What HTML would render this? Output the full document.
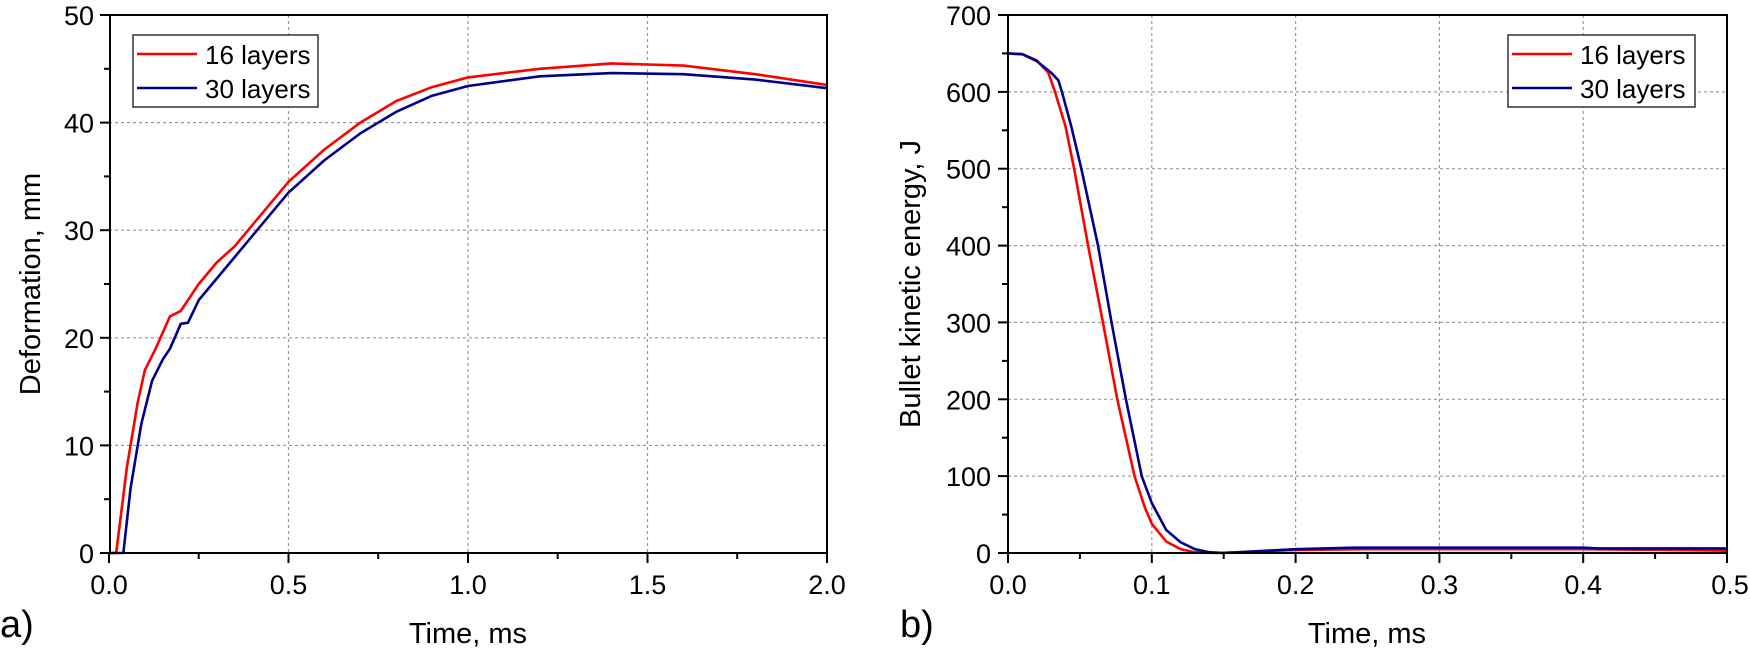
<!DOCTYPE html>
<html><head><meta charset="utf-8"><style>
html,body{margin:0;padding:0;background:#fff;}
svg{display:block;font-family:"Liberation Sans",Arial,sans-serif;}
</style></head><body>
<svg width="1750" height="653" viewBox="0 0 1750 653" xmlns="http://www.w3.org/2000/svg">
<!-- LEFT PLOT -->
<g stroke="#999" stroke-width="1.2" stroke-dasharray="3,3">
 <line x1="288.5" y1="15" x2="288.5" y2="553"/><line x1="468" y1="15" x2="468" y2="553"/><line x1="647.5" y1="15" x2="647.5" y2="553"/>
 <line x1="109" y1="122.6" x2="827" y2="122.6"/><line x1="109" y1="230.2" x2="827" y2="230.2"/><line x1="109" y1="337.8" x2="827" y2="337.8"/><line x1="109" y1="445.4" x2="827" y2="445.4"/>
</g>
<g fill="none" stroke-width="2.6" stroke-linejoin="round">
<g transform="translate(109,553) scale(359,-10.76)">
<polyline vector-effect="non-scaling-stroke" stroke="#ff0000" points="0,0 0.02,0 0.05,8 0.08,14 0.1,17 0.13,19 0.17,22 0.2,22.5 0.25,25 0.3,27 0.35,28.5 0.4,30.5 0.5,34.5 0.6,37.5 0.7,40 0.8,42 0.9,43.3 1.0,44.2 1.2,45 1.4,45.5 1.6,45.3 1.8,44.5 2.0,43.5"/>
<polyline vector-effect="non-scaling-stroke" stroke="#00008b" points="0,0 0.04,0 0.06,6 0.09,12 0.12,16 0.15,18 0.17,19 0.2,21.3 0.22,21.4 0.25,23.5 0.3,25.5 0.4,29.5 0.5,33.5 0.6,36.5 0.7,39 0.8,41 0.9,42.5 1.0,43.4 1.2,44.3 1.4,44.6 1.6,44.5 1.8,44 2.0,43.2"/>
</g></g>
<rect x="110" y="15" width="717" height="538" fill="none" stroke="#000" stroke-width="2"/>
<g stroke="#000" stroke-width="2">
 <line x1="100" y1="15" x2="110" y2="15"/><line x1="100" y1="122.6" x2="110" y2="122.6"/><line x1="100" y1="230.2" x2="110" y2="230.2"/><line x1="100" y1="337.8" x2="110" y2="337.8"/><line x1="100" y1="445.4" x2="110" y2="445.4"/><line x1="100" y1="553" x2="110" y2="553"/>
 <line x1="104" y1="68.8" x2="110" y2="68.8"/><line x1="104" y1="176.4" x2="110" y2="176.4"/><line x1="104" y1="284" x2="110" y2="284"/><line x1="104" y1="391.6" x2="110" y2="391.6"/><line x1="104" y1="499.2" x2="110" y2="499.2"/>
 <line x1="109" y1="553" x2="109" y2="563"/><line x1="288.5" y1="553" x2="288.5" y2="563"/><line x1="468" y1="553" x2="468" y2="563"/><line x1="647.5" y1="553" x2="647.5" y2="563"/><line x1="827" y1="553" x2="827" y2="563"/>
 <line x1="198.7" y1="553" x2="198.7" y2="559"/><line x1="378.2" y1="553" x2="378.2" y2="559"/><line x1="557.7" y1="553" x2="557.7" y2="559"/><line x1="737.2" y1="553" x2="737.2" y2="559"/>
</g>
<g font-size="27" text-anchor="end" fill="#000">
 <text x="94" y="25">50</text><text x="94" y="132.6">40</text><text x="94" y="240.2">30</text><text x="94" y="347.8">20</text><text x="94" y="455.4">10</text><text x="94" y="563">0</text>
</g>
<g font-size="27" text-anchor="middle">
 <text x="109" y="594">0.0</text><text x="288.5" y="594">0.5</text><text x="468" y="594">1.0</text><text x="647.5" y="594">1.5</text><text x="827" y="594">2.0</text>
</g>
<text x="468" y="643" font-size="29" text-anchor="middle">Time, ms</text>
<text x="0" y="637" font-size="38">a)</text>
<text transform="translate(40,284) rotate(-90)" font-size="29" text-anchor="middle">Deformation, mm</text>
<rect x="133" y="35" width="185" height="72" fill="#fff" stroke="#333" stroke-width="1.5"/>
<line x1="137" y1="54" x2="197" y2="54" stroke="#ff0000" stroke-width="2.6"/>
<line x1="137" y1="88" x2="197" y2="88" stroke="#00008b" stroke-width="2.6"/>
<text x="205" y="64" font-size="26">16 layers</text>
<text x="205" y="98" font-size="26">30 layers</text>

<!-- RIGHT PLOT -->
<g stroke="#999" stroke-width="1.2" stroke-dasharray="3,3">
 <line x1="1151.8" y1="15" x2="1151.8" y2="553"/><line x1="1295.6" y1="15" x2="1295.6" y2="553"/><line x1="1439.4" y1="15" x2="1439.4" y2="553"/><line x1="1583.2" y1="15" x2="1583.2" y2="553"/>
 <line x1="1008" y1="91.9" x2="1727" y2="91.9"/><line x1="1008" y1="168.7" x2="1727" y2="168.7"/><line x1="1008" y1="245.6" x2="1727" y2="245.6"/><line x1="1008" y1="322.4" x2="1727" y2="322.4"/><line x1="1008" y1="399.3" x2="1727" y2="399.3"/><line x1="1008" y1="476.1" x2="1727" y2="476.1"/>
</g>
<g fill="none" stroke-width="2.6" stroke-linejoin="round">
<g transform="translate(1008,553) scale(1438,-0.7686)">
<polyline vector-effect="non-scaling-stroke" stroke="#ff0000" points="0,650 0.01,649 0.02,641 0.028,625 0.0327,600 0.04,555 0.046,500 0.0557,400 0.066,300 0.076,200 0.088,100 0.095,60 0.1,38 0.11,15 0.12,5 0.13,1 0.145,0 0.2,4 0.25,5 0.4,5 0.46,4 0.5,3"/>
<polyline vector-effect="non-scaling-stroke" stroke="#00008b" points="0,650 0.01,649 0.02,640 0.03,625 0.035,615 0.0375,600 0.044,555 0.051,500 0.0626,400 0.072,300 0.082,200 0.093,100 0.1,65 0.11,30 0.12,14 0.13,5 0.14,1 0.15,0 0.2,5 0.24,7 0.4,7 0.41,6 0.5,6"/>
</g></g>
<rect x="1008" y="15" width="719" height="538" fill="none" stroke="#000" stroke-width="2"/>
<g stroke="#000" stroke-width="2">
 <line x1="998" y1="15" x2="1008" y2="15"/><line x1="998" y1="91.9" x2="1008" y2="91.9"/><line x1="998" y1="168.7" x2="1008" y2="168.7"/><line x1="998" y1="245.6" x2="1008" y2="245.6"/><line x1="998" y1="322.4" x2="1008" y2="322.4"/><line x1="998" y1="399.3" x2="1008" y2="399.3"/><line x1="998" y1="476.1" x2="1008" y2="476.1"/><line x1="998" y1="553" x2="1008" y2="553"/>
 <line x1="1002" y1="53.4" x2="1008" y2="53.4"/><line x1="1002" y1="130.3" x2="1008" y2="130.3"/><line x1="1002" y1="207.2" x2="1008" y2="207.2"/><line x1="1002" y1="284" x2="1008" y2="284"/><line x1="1002" y1="360.9" x2="1008" y2="360.9"/><line x1="1002" y1="437.7" x2="1008" y2="437.7"/><line x1="1002" y1="514.6" x2="1008" y2="514.6"/>
 <line x1="1008" y1="553" x2="1008" y2="563"/><line x1="1151.8" y1="553" x2="1151.8" y2="563"/><line x1="1295.6" y1="553" x2="1295.6" y2="563"/><line x1="1439.4" y1="553" x2="1439.4" y2="563"/><line x1="1583.2" y1="553" x2="1583.2" y2="563"/><line x1="1727" y1="553" x2="1727" y2="563"/>
 <line x1="1079.9" y1="553" x2="1079.9" y2="559"/><line x1="1223.7" y1="553" x2="1223.7" y2="559"/><line x1="1367.5" y1="553" x2="1367.5" y2="559"/><line x1="1511.3" y1="553" x2="1511.3" y2="559"/><line x1="1655.1" y1="553" x2="1655.1" y2="559"/>
</g>
<g font-size="27" text-anchor="end">
 <text x="991" y="25">700</text><text x="991" y="101.9">600</text><text x="991" y="178.7">500</text><text x="991" y="255.6">400</text><text x="991" y="332.4">300</text><text x="991" y="409.3">200</text><text x="991" y="486.1">100</text><text x="991" y="563">0</text>
</g>
<g font-size="27" text-anchor="middle">
 <text x="1008" y="594">0.0</text><text x="1151.8" y="594">0.1</text><text x="1295.6" y="594">0.2</text><text x="1439.4" y="594">0.3</text><text x="1583.2" y="594">0.4</text><text x="1730" y="594">0.5</text>
</g>
<text x="1367" y="643" font-size="29" text-anchor="middle">Time, ms</text>
<text x="900" y="637" font-size="38">b)</text>
<text transform="translate(920,284) rotate(-90)" font-size="29" text-anchor="middle">Bullet kinetic energy, J</text>
<rect x="1508" y="35" width="187" height="72" fill="#fff" stroke="#333" stroke-width="1.5"/>
<line x1="1512" y1="54" x2="1572" y2="54" stroke="#ff0000" stroke-width="2.6"/>
<line x1="1512" y1="88" x2="1572" y2="88" stroke="#00008b" stroke-width="2.6"/>
<text x="1580" y="64" font-size="26">16 layers</text>
<text x="1580" y="98" font-size="26">30 layers</text>
</svg>
</body></html>
